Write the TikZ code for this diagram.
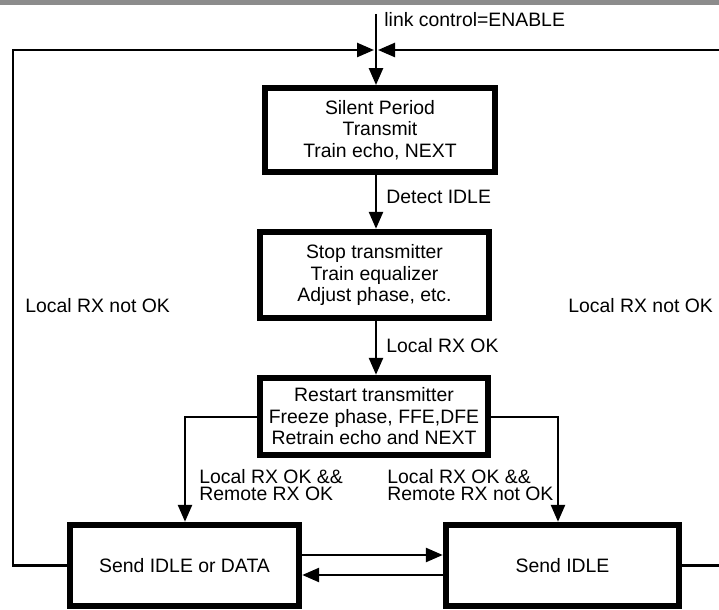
\documentclass[tikz,border=0pt]{standalone}
\usepackage{fontspec}
\setmainfont{Liberation Sans}
\usetikzlibrary{arrows.meta}
\begin{document}
\begin{tikzpicture}[x=0.5pt,y=-0.5pt,
  state/.style={draw, line width=3.2pt, align=center, inner sep=0pt,
    font=\fontsize{9.7}{10.75}\selectfont},
  conn/.style={line width=1.25pt},
  tip/.style={-{Triangle[length=8.5pt,width=7pt]}},
  lbl/.style={inner sep=0pt, anchor=west, align=left,
    font=\fontsize{9.7}{8.6}\selectfont}]
\useasboundingbox (0,0) rectangle (719,610);
\clip (0,0) rectangle (719,610);

% header rule
\fill[black!45] (0,0) rectangle (719,5);

% states
\node[state, minimum width=115pt, minimum height=41.75pt] (b1) at (380,130)
  {Silent Period\\Transmit\\Train echo, NEXT};
\node[state, minimum width=114.5pt, minimum height=43pt] (b2) at (374.5,275)
  {Stop transmitter\\Train equalizer\\Adjust phase, etc.};
\node[state, minimum width=114pt, minimum height=38.5pt] (b3) at (374,416.5)
  {Restart transmitter\\Freeze phase, FFE,DFE\\Retrain echo and NEXT};
\node[state, minimum width=114.5pt, minimum height=40.5pt] (bl) at (184.5,565.5)
  {Send IDLE or DATA};
\node[state, minimum width=116.5pt, minimum height=40.5pt] (br) at (562.5,565.5)
  {Send IDLE};

% helper points
\coordinate (src) at (376,14);
\coordinate (jl) at (374,50);
\coordinate (jr) at (378,50);
\coordinate (lcorner) at (13,50);
\coordinate (rcorner) at (740,50);
\coordinate (ldrop) at (185,417);
\coordinate (rdrop) at (558,417);

% entry and main chain
\draw[conn,tip] (src) -- (src |- b1.north);
\draw[conn,tip] (b1.south -| src) -- (b2.north -| src);
\draw[conn,tip] (b2.south -| src) -- (b3.north -| src);

% branches out of the restart state
\draw[conn,tip] (b3.west |- ldrop) -- (ldrop) -- (ldrop |- bl.north);
\draw[conn,tip] (b3.east |- rdrop) -- (rdrop) -- (rdrop |- br.north);

% transitions between the two bottom states
\draw[conn,tip] ([yshift=5.25pt]bl.east) -- ([yshift=5.25pt]br.west);
\draw[conn,tip] ([yshift=-4.75pt]br.west) -- ([yshift=-4.75pt]bl.east);

% retrain loops back to the top
\draw[conn,tip] (bl.west) -- (bl.west -| lcorner) -- (lcorner) -- (jl);
\draw[conn,tip] (br.east) -- (br.east -| rcorner) -- (rcorner) -- (jr);

% labels
\node[lbl] (lab0) at (384,20) {link control=ENABLE};
\node[lbl] (lab1) at (386,197) {Detect IDLE};
\node[lbl] (lab2) at (386,346) {Local RX OK};
\node[lbl] (lab3) at (25,306) {Local RX not OK};
\node[lbl] (lab4) at (568,306) {Local RX not OK};
\node[lbl] (lab5) at (199,485) {Local RX OK \&\&\\Remote RX OK};
\node[lbl] (lab6) at (387,485) {Local RX OK \&\&\\Remote RX not OK};
\end{tikzpicture}
\end{document}
